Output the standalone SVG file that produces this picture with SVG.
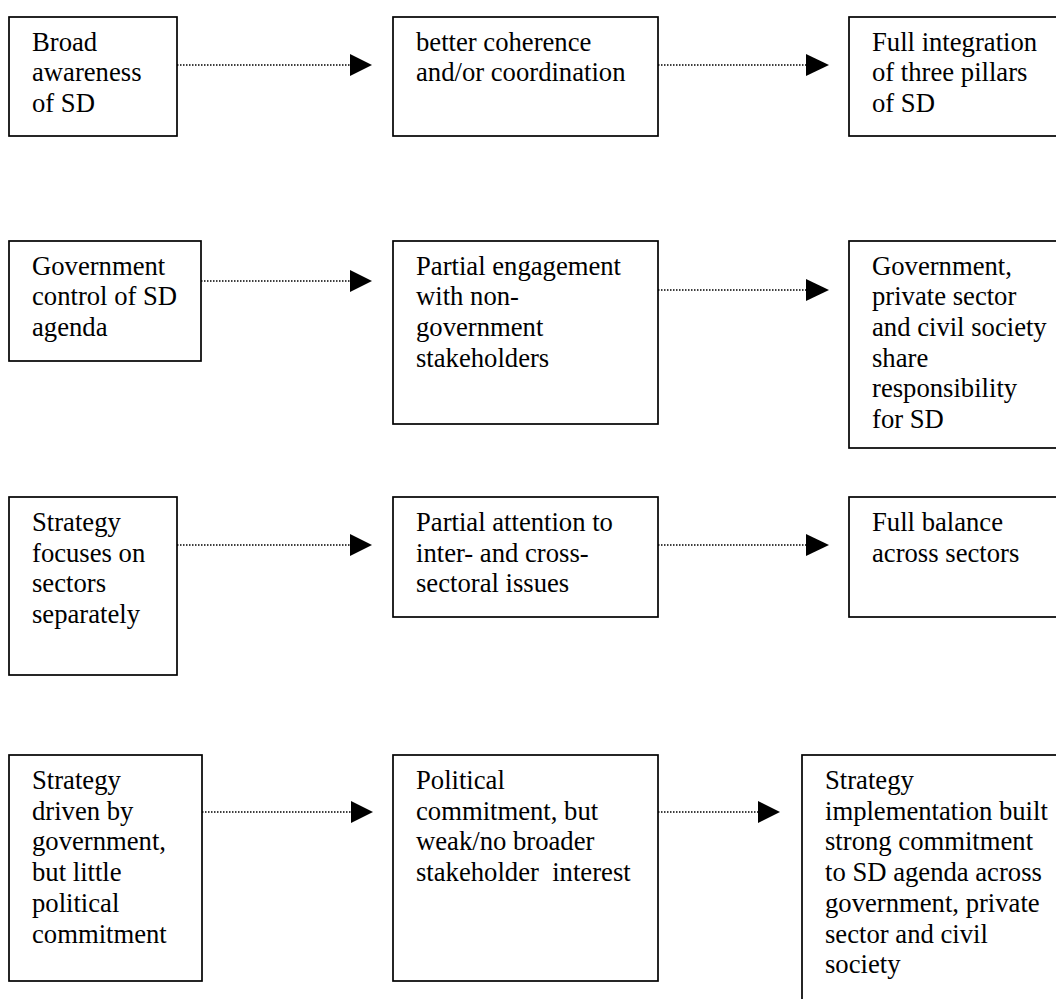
<svg xmlns="http://www.w3.org/2000/svg" width="1056" height="999" viewBox="0 0 1056 999">
<style>
.box{fill:#fff;stroke:#000;stroke-width:1.7}
text{font-family:'Liberation Serif','Times New Roman','DejaVu Serif',serif;font-size:26.67px;fill:#000}
.c{stroke:#000;stroke-width:1.3;stroke-dasharray:1.5 1.5;fill:none}
.h{fill:#000;stroke:none}
</style>
<rect width="1056" height="999" fill="#fff"/>
<g id="connectors">
<line class="c" x1="177" y1="65" x2="351" y2="65"/><polygon class="h" points="350,54 372,65 350,76"/>
<line class="c" x1="658" y1="65" x2="807" y2="65"/><polygon class="h" points="806,54 829,65 806,76"/>
<line class="c" x1="201" y1="281" x2="351" y2="281"/><polygon class="h" points="350,270 372,281 350,292"/>
<line class="c" x1="658" y1="290" x2="807" y2="290"/><polygon class="h" points="806,279 829,290 806,301"/>
<line class="c" x1="177" y1="545" x2="351" y2="545"/><polygon class="h" points="350,534 372,545 350,556"/>
<line class="c" x1="658" y1="545" x2="807" y2="545"/><polygon class="h" points="806,534 829,545 806,556"/>
<line class="c" x1="202" y1="812" x2="352" y2="812"/><polygon class="h" points="351,801 373,812 351,823"/>
<line class="c" x1="658" y1="812" x2="759" y2="812"/><polygon class="h" points="758,801 780,812 758,823"/>
</g>
<g id="r1a"><rect class="box" x="9" y="17" width="168" height="119"/>
<text><tspan x="32" y="50.5">Broad</tspan><tspan x="32" y="81.2">awareness</tspan><tspan x="32" y="111.9">of SD</tspan></text></g>
<g id="r1b"><rect class="box" x="393" y="17" width="265" height="119"/>
<text><tspan x="416" y="50.5">better coherence</tspan><tspan x="416" y="81.2">and/or coordination</tspan></text></g>
<g id="r1c"><rect class="box" x="849" y="17" width="240" height="119"/>
<text><tspan x="872" y="50.5">Full integration</tspan><tspan x="872" y="81.2">of three pillars</tspan><tspan x="872" y="111.9">of SD</tspan></text></g>
<g id="r2a"><rect class="box" x="9" y="241" width="192" height="120"/>
<text><tspan x="32" y="274.5">Government</tspan><tspan x="32" y="305.2">control of SD</tspan><tspan x="32" y="335.9">agenda</tspan></text></g>
<g id="r2b"><rect class="box" x="393" y="241" width="265" height="183"/>
<text><tspan x="416" y="274.5">Partial engagement</tspan><tspan x="416" y="305.2">with non-</tspan><tspan x="416" y="335.9">government</tspan><tspan x="416" y="366.6">stakeholders</tspan></text></g>
<g id="r2c"><rect class="box" x="849" y="241" width="240" height="207"/>
<text><tspan x="872" y="274.5">Government,</tspan><tspan x="872" y="305.2">private sector</tspan><tspan x="872" y="335.9">and civil society</tspan><tspan x="872" y="366.6">share</tspan><tspan x="872" y="397.3">responsibility</tspan><tspan x="872" y="428">for SD</tspan></text></g>
<g id="r3a"><rect class="box" x="9" y="497" width="168" height="178"/>
<text><tspan x="32" y="531">Strategy</tspan><tspan x="32" y="561.7">focuses on</tspan><tspan x="32" y="592.4">sectors</tspan><tspan x="32" y="623.1">separately</tspan></text></g>
<g id="r3b"><rect class="box" x="393" y="497" width="265" height="120"/>
<text><tspan x="416" y="531">Partial attention to</tspan><tspan x="416" y="561.7">inter- and cross-</tspan><tspan x="416" y="592.4">sectoral issues</tspan></text></g>
<g id="r3c"><rect class="box" x="849" y="497" width="240" height="120"/>
<text><tspan x="872" y="531">Full balance</tspan><tspan x="872" y="561.7">across sectors</tspan></text></g>
<g id="r4a"><rect class="box" x="9" y="755" width="193" height="226"/>
<text><tspan x="32" y="789">Strategy</tspan><tspan x="32" y="819.7">driven by</tspan><tspan x="32" y="850.4">government,</tspan><tspan x="32" y="881.1">but little</tspan><tspan x="32" y="911.8">political</tspan><tspan x="32" y="942.5">commitment</tspan></text></g>
<g id="r4b"><rect class="box" x="393" y="755" width="265" height="226"/>
<text xml:space="preserve"><tspan x="416" y="789">Political</tspan><tspan x="416" y="819.7">commitment, but</tspan><tspan x="416" y="850.4">weak/no broader</tspan><tspan x="416" y="881.1">stakeholder  interest</tspan></text></g>
<g id="r4c"><rect class="box" x="802" y="755" width="290" height="260"/>
<text><tspan x="825" y="789">Strategy</tspan><tspan x="825" y="819.7">implementation built</tspan><tspan x="825" y="850.4">strong commitment</tspan><tspan x="825" y="881.1">to SD agenda across</tspan><tspan x="825" y="911.8">government, private</tspan><tspan x="825" y="942.5">sector and civil</tspan><tspan x="825" y="973.2">society</tspan></text></g>
</svg>
